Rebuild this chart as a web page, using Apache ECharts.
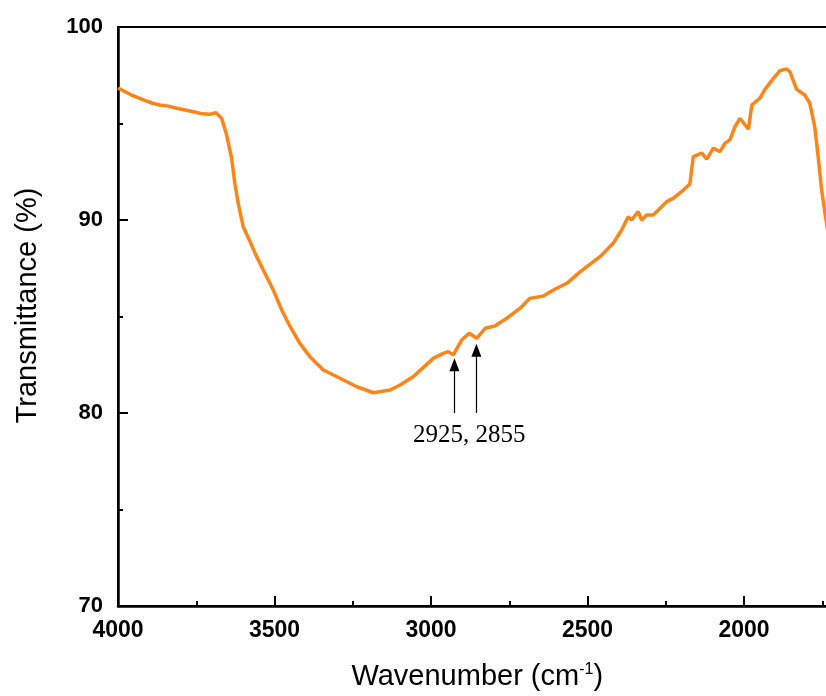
<!DOCTYPE html>
<html>
<head>
<meta charset="utf-8">
<script src="https://cdn.jsdelivr.net/npm/echarts@6/dist/echarts.min.js"></script>
<style>
html,body{margin:0;padding:0;background:#fff;}
#chart{width:826px;height:696px;}
</style>
</head>
<body>
<div id="chart"></div>
<script>
// Wavenumber (cm-1) values of the traced spectrum
const wavenumbers = [4000,3960,3919,3890,3866,3840,3812,3785,3759,3730,3706,3687,3669,3653,3637,3626,3615,3600,3578,3562,3536,3504,3477,3450,3419,3387,3344,3291,3237,3184,3131,3099,3057,2993,2961,2945,2929,2902,2878,2854,2827,2796,2758,2716,2684,2641,2609,2566,2524,2460,2418,2391,2370,2359,2338,2327,2311,2290,2247,2226,2194,2173,2162,2135,2119,2098,2077,2061,2045,2029,2013,1986,1975,1949,1933,1906,1885,1864,1853,1832,1806,1790,1774,1763,1752,1738,1730];
// Transmittance (%) values
const transmittance = [96.84,96.50,96.22,96.05,95.96,95.90,95.79,95.70,95.61,95.50,95.48,95.56,95.27,94.40,93.20,91.81,90.78,89.65,88.88,88.27,87.41,86.37,85.34,84.47,83.61,82.92,82.23,81.80,81.36,81.05,81.19,81.45,81.88,82.83,83.09,83.18,83.01,83.78,84.13,83.87,84.39,84.51,84.91,85.42,85.94,86.06,86.37,86.72,87.31,88.10,88.79,89.48,90.17,90.00,90.43,90.00,90.26,90.26,90.95,91.12,91.55,91.87,93.28,93.46,93.15,93.72,93.54,93.97,94.15,94.83,95.27,94.70,95.96,96.31,96.77,97.34,97.74,97.82,97.68,96.77,96.48,96.05,94.83,93.28,91.55,90.00,89.2];
// Annotated peaks: [wavenumber, arrow tail T, arrow tip T]
const peakWavenumbers = [2925, 2855];
const arrowTailT = [80.0, 80.0];
const arrowTipT = [82.5, 83.25];
const annotationText = '2925, 2855';
const annotationPos = [2878, 78.85];
const xTicks = {min: 1500, max: 4000, interval: 500};
const yTicks = {min: 70, max: 100, interval: 10};

const chart = echarts.init(document.getElementById('chart'));
const data = wavenumbers.map((w, i) => [w, transmittance[i]]);

const markLines = peakWavenumbers.map((w, i) => [
  {coord: [w, arrowTailT[i]], symbol: 'none'},
  {coord: [w, arrowTipT[i]], symbol: 'triangle'}
]);

const sans = 'Arial, "Liberation Sans", sans-serif';

chart.setOption({
  animation: false,
  backgroundColor: '#fff',
  grid: {left: 118, top: 27, width: 782.5, height: 579, outerBoundsMode: 'none', containLabel: false,
         show: true, borderColor: '#000', borderWidth: 2},
  xAxis: {
    type: 'value', inverse: true, min: xTicks.min, max: xTicks.max, interval: xTicks.interval,
    name: 'Wavenumber (cm{sup|-1})', nameLocation: 'middle', nameGap: 56,
    nameTextStyle: {fontFamily: sans, fontSize: 29, color: '#000',
      padding: [0, 64, 0, 0],
      rich: {sup: {fontSize: 16, verticalAlign: 'top', padding: [0,0,14,0], fontFamily: sans, color: '#000'}}},
    axisLine: {show: true, lineStyle: {color: '#000', width: 2.5}},
    axisTick: {show: true, inside: true, length: 10, lineStyle: {color: '#000', width: 2}},
    minorTick: {show: true, splitNumber: 2, length: 5, lineStyle: {color: '#000', width: 2}},
    splitLine: {show: false},
    axisLabel: {fontFamily: sans, fontWeight: 'bold', fontSize: 23, color: '#000', margin: 13,
      formatter: v => String(v)}
  },
  yAxis: {
    type: 'value', min: yTicks.min, max: yTicks.max, interval: yTicks.interval,
    name: 'Transmittance (%)', nameLocation: 'middle', nameGap: 76,
    nameTextStyle: {fontFamily: sans, fontSize: 29, color: '#000', padding: [0, 0, 0, 22]},
    axisLine: {show: true, lineStyle: {color: '#000', width: 2.5}},
    axisTick: {show: true, inside: true, length: 10, lineStyle: {color: '#000', width: 2}},
    minorTick: {show: true, splitNumber: 2, length: 5, lineStyle: {color: '#000', width: 2}},
    splitLine: {show: false},
    axisLabel: {fontFamily: sans, fontWeight: 'bold', fontSize: 22, color: '#000', margin: 15,
      formatter: v => String(v)}
  },
  series: [{
    type: 'line', data: data, showSymbol: false, smooth: false,
    lineStyle: {color: '#FB8518', width: 3.5},
    itemStyle: {color: '#FB8518'},
    markLine: {
      silent: true, symbolSize: [10, 13],
      lineStyle: {color: '#000', width: 1.2, type: 'solid'},
      label: {show: false},
      data: markLines
    },
    markPoint: {
      silent: true, symbol: 'circle', symbolSize: 0,
      label: {show: true, formatter: annotationText, fontFamily: '"Times New Roman", "Liberation Serif", serif',
        fontSize: 25, color: '#000', position: 'inside'},
      data: [{coord: annotationPos}]
    }
  }]
});
</script>
</body>
</html>
